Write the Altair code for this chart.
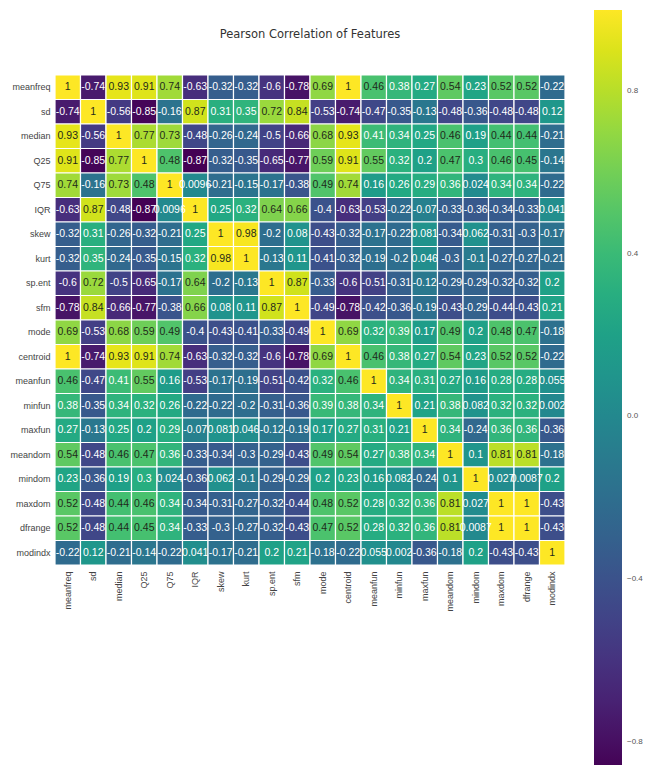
import altair as alt
import pandas as pd

features = ["meanfreq", "sd", "median", "Q25", "Q75", "IQR", "skew", "kurt", "sp.ent", "sfm",
            "mode", "centroid", "meanfun", "minfun", "maxfun", "meandom", "mindom", "maxdom",
            "dfrange", "modindx"]

r_meanfreq = [1, -0.74, 0.93, 0.91, 0.74, -0.63, -0.32, -0.32, -0.6, -0.78, 0.69, 1, 0.46, 0.38, 0.27, 0.54, 0.23, 0.52, 0.52, -0.22]
r_sd = [-0.74, 1, -0.56, -0.85, -0.16, 0.87, 0.31, 0.35, 0.72, 0.84, -0.53, -0.74, -0.47, -0.35, -0.13, -0.48, -0.36, -0.48, -0.48, 0.12]
r_median = [0.93, -0.56, 1, 0.77, 0.73, -0.48, -0.26, -0.24, -0.5, -0.66, 0.68, 0.93, 0.41, 0.34, 0.25, 0.46, 0.19, 0.44, 0.44, -0.21]
r_q25 = [0.91, -0.85, 0.77, 1, 0.48, -0.87, -0.32, -0.35, -0.65, -0.77, 0.59, 0.91, 0.55, 0.32, 0.2, 0.47, 0.3, 0.46, 0.45, -0.14]
r_q75 = [0.74, -0.16, 0.73, 0.48, 1, 0.0096, -0.21, -0.15, -0.17, -0.38, 0.49, 0.74, 0.16, 0.26, 0.29, 0.36, 0.024, 0.34, 0.34, -0.22]
r_iqr = [-0.63, 0.87, -0.48, -0.87, 0.0096, 1, 0.25, 0.32, 0.64, 0.66, -0.4, -0.63, -0.53, -0.22, -0.07, -0.33, -0.36, -0.34, -0.33, 0.041]
r_skew = [-0.32, 0.31, -0.26, -0.32, -0.21, 0.25, 1, 0.98, -0.2, 0.08, -0.43, -0.32, -0.17, -0.22, 0.081, -0.34, 0.062, -0.31, -0.3, -0.17]
r_kurt = [-0.32, 0.35, -0.24, -0.35, -0.15, 0.32, 0.98, 1, -0.13, 0.11, -0.41, -0.32, -0.19, -0.2, 0.046, -0.3, -0.1, -0.27, -0.27, -0.21]
r_spent = [-0.6, 0.72, -0.5, -0.65, -0.17, 0.64, -0.2, -0.13, 1, 0.87, -0.33, -0.6, -0.51, -0.31, -0.12, -0.29, -0.29, -0.32, -0.32, 0.2]
r_sfm = [-0.78, 0.84, -0.66, -0.77, -0.38, 0.66, 0.08, 0.11, 0.87, 1, -0.49, -0.78, -0.42, -0.36, -0.19, -0.43, -0.29, -0.44, -0.43, 0.21]
r_mode = [0.69, -0.53, 0.68, 0.59, 0.49, -0.4, -0.43, -0.41, -0.33, -0.49, 1, 0.69, 0.32, 0.39, 0.17, 0.49, 0.2, 0.48, 0.47, -0.18]
r_centroid = [1, -0.74, 0.93, 0.91, 0.74, -0.63, -0.32, -0.32, -0.6, -0.78, 0.69, 1, 0.46, 0.38, 0.27, 0.54, 0.23, 0.52, 0.52, -0.22]
r_meanfun = [0.46, -0.47, 0.41, 0.55, 0.16, -0.53, -0.17, -0.19, -0.51, -0.42, 0.32, 0.46, 1, 0.34, 0.31, 0.27, 0.16, 0.28, 0.28, 0.055]
r_minfun = [0.38, -0.35, 0.34, 0.32, 0.26, -0.22, -0.22, -0.2, -0.31, -0.36, 0.39, 0.38, 0.34, 1, 0.21, 0.38, 0.082, 0.32, 0.32, 0.002]
r_maxfun = [0.27, -0.13, 0.25, 0.2, 0.29, -0.07, 0.081, 0.046, -0.12, -0.19, 0.17, 0.27, 0.31, 0.21, 1, 0.34, -0.24, 0.36, 0.36, -0.36]
r_meandom = [0.54, -0.48, 0.46, 0.47, 0.36, -0.33, -0.34, -0.3, -0.29, -0.43, 0.49, 0.54, 0.27, 0.38, 0.34, 1, 0.1, 0.81, 0.81, -0.18]
r_mindom = [0.23, -0.36, 0.19, 0.3, 0.024, -0.36, 0.062, -0.1, -0.29, -0.29, 0.2, 0.23, 0.16, 0.082, -0.24, 0.1, 1, 0.027, 0.0087, 0.2]
r_maxdom = [0.52, -0.48, 0.44, 0.46, 0.34, -0.34, -0.31, -0.27, -0.32, -0.44, 0.48, 0.52, 0.28, 0.32, 0.36, 0.81, 0.027, 1, 1, -0.43]
r_dfrange = [0.52, -0.48, 0.44, 0.45, 0.34, -0.33, -0.3, -0.27, -0.32, -0.43, 0.47, 0.52, 0.28, 0.32, 0.36, 0.81, 0.0087, 1, 1, -0.43]
r_modindx = [-0.22, 0.12, -0.21, -0.14, -0.22, 0.041, -0.17, -0.21, 0.2, 0.21, -0.18, -0.22, 0.055, 0.002, -0.36, -0.18, 0.2, -0.43, -0.43, 1]

rows = [r_meanfreq, r_sd, r_median, r_q25, r_q75, r_iqr, r_skew, r_kurt, r_spent, r_sfm,
        r_mode, r_centroid, r_meanfun, r_minfun, r_maxfun, r_meandom, r_mindom, r_maxdom,
        r_dfrange, r_modindx]

records = []
for i, rname in enumerate(features):
    for j, cname in enumerate(features):
        v = rows[i][j]
        records.append({"row": rname, "col": cname, "value": v, "label": format(v, ".2g")})
df = pd.DataFrame(records)

base = alt.Chart(df).encode(
    x=alt.X("col:N", sort=features, title=None,
            axis=alt.Axis(labelAngle=-90, labelFontSize=9, labelColor="#444444", ticks=False,
                          domain=False, labelPadding=6, labelFont="Liberation Sans")),
    y=alt.Y("row:N", sort=features, title=None,
            axis=alt.Axis(labelFontSize=9, labelColor="#444444", ticks=False, domain=False,
                          labelPadding=5, labelFont="Liberation Sans")),
)

rect = base.mark_rect(stroke="white", strokeWidth=1.2).encode(
    color=alt.Color("value:Q",
                    scale=alt.Scale(scheme="viridis", domain=[-0.87, 1]),
                    legend=alt.Legend(orient="none", legendX=539, legendY=-65,
                                      direction="vertical", title=None,
                                      gradientLength=760, gradientThickness=28,
                                      gradientStrokeWidth=0,
                                      values=[-0.8, -0.4, 0.0, 0.4, 0.8], format=".1f",
                                      labelFontSize=8, labelColor="#555555",
                                      labelOffset=5, labelFont="Liberation Sans"))
)

text = base.mark_text(fontSize=10.5, font="Liberation Sans").encode(
    text="label:N",
    color=alt.condition("datum.value >= 0.43", alt.value("#1f2a1a"), alt.value("#ffffff")),
)

chart = (rect + text).properties(
    width=510, height=490,
    title=alt.TitleParams("Pearson Correlation of Features", fontSize=11.5, fontWeight="normal",
                          font="DejaVu Sans", color="#333333", offset=0, dy=30, anchor="middle"),
    autosize=alt.AutoSizeParams(type="none"),
    padding={"left": 47, "top": 67, "right": 78, "bottom": 200},
).configure_view(strokeWidth=0)

chart.save("out.html", embed_options={"renderer": "svg", "actions": False})
